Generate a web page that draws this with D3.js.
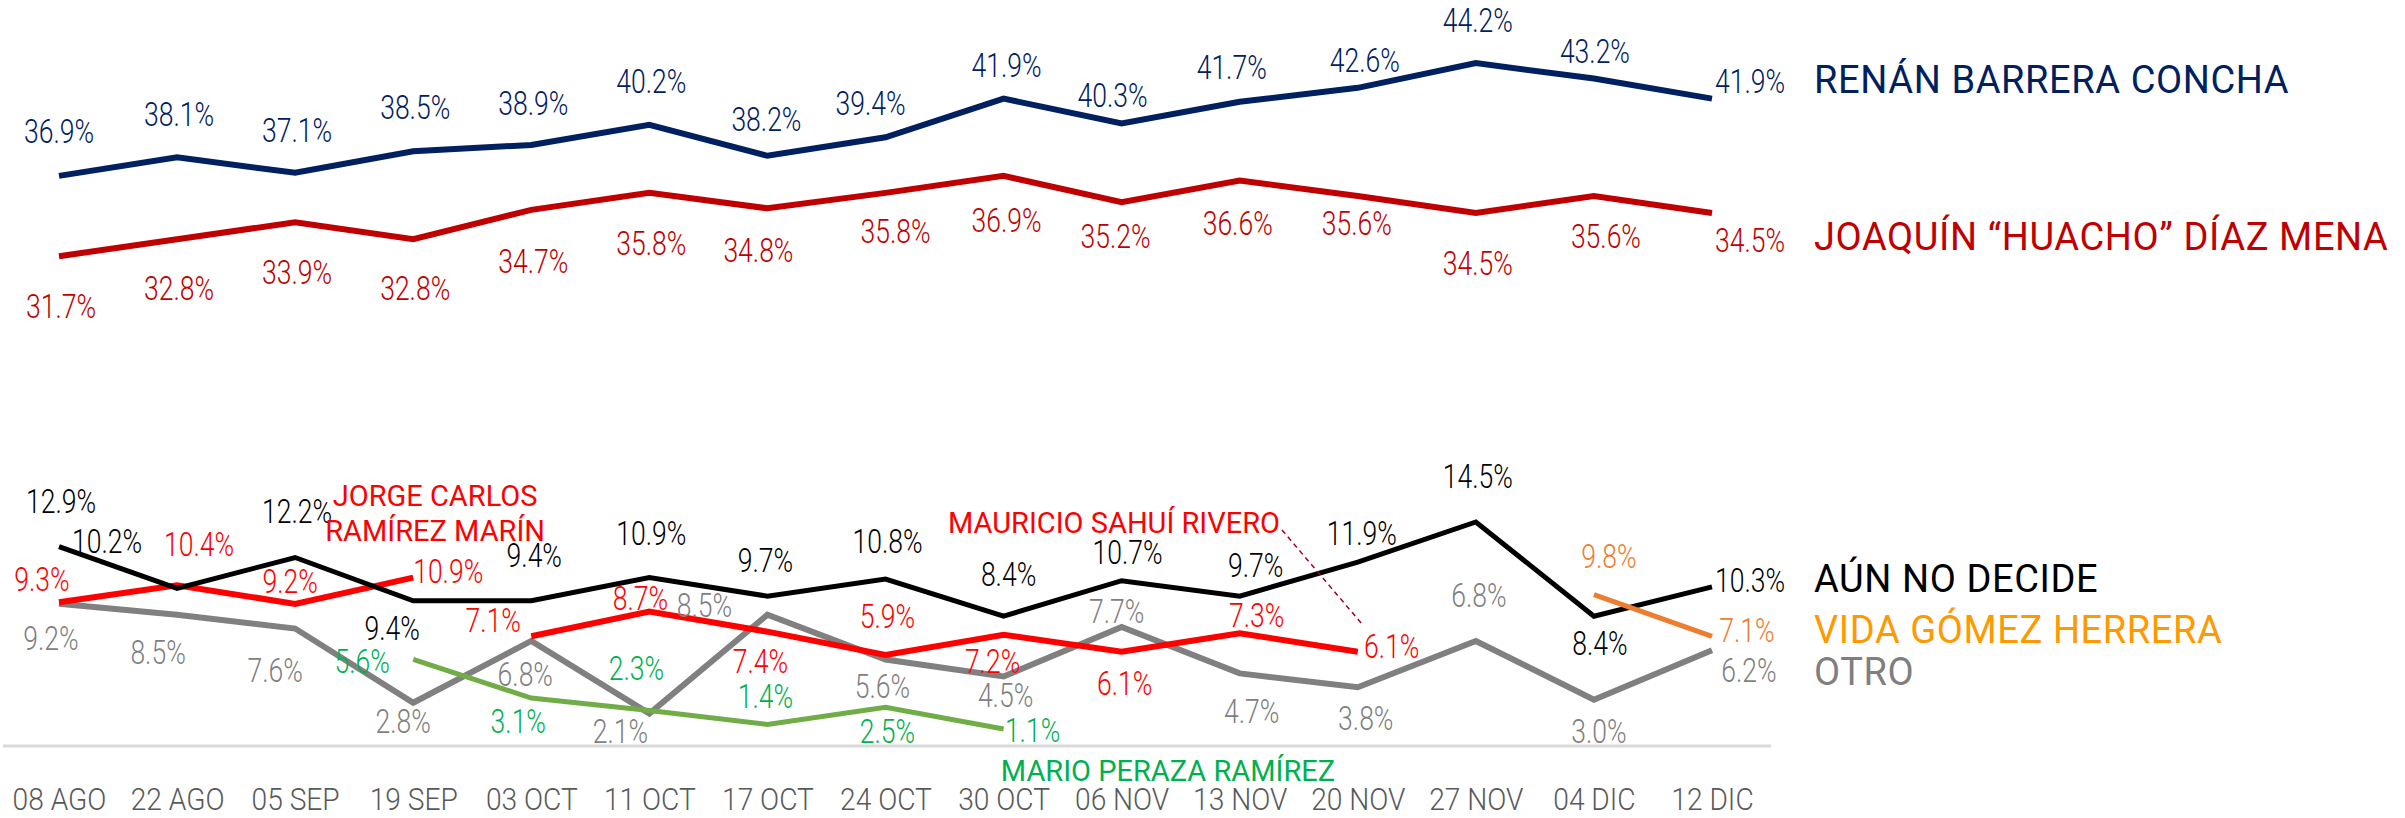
<!DOCTYPE html>
<html>
<head>
<meta charset="utf-8">
<script src="https://cdn.jsdelivr.net/npm/d3@7"></script>
<style>
  body { margin: 0; background: #fff; }
  text { font-family: Roboto, "Noto Sans", sans-serif; }
</style>
</head>
<body>
<div class="poll_chart"></div>
<script>

var svgWidth = 2405;
var svgHeight = 818;

// survey dates
var dates = ["08 AGO", "22 AGO", "05 SEP", "19 SEP", "03 OCT", "11 OCT", "17 OCT", "24 OCT",
  "30 OCT", "06 NOV", "13 NOV", "20 NOV", "27 NOV", "04 DIC", "12 DIC"];

// series values (%)
var renan = [36.9, 38.1, 37.1, 38.5, 38.9, 40.2, 38.2, 39.4, 41.9, 40.3, 41.7, 42.6, 44.2, 43.2, 41.9];
var joaquin = [31.7, 32.8, 33.9, 32.8, 34.7, 35.8, 34.8, 35.8, 36.9, 35.2, 36.6, 35.6, 34.5, 35.6, 34.5];
var aunNoDecide = [12.9, 10.2, 12.2, 9.4, 9.4, 10.9, 9.7, 10.8, 8.4, 10.7, 9.7, 11.9, 14.5, 8.4, 10.3];
var otro = [9.2, 8.5, 7.6, 2.8, 6.8, 2.1, 8.5, 5.6, 4.5, 7.7, 4.7, 3.8, 6.8, 3.0, 6.2];
var jorge = [9.3, 10.4, 9.2, 10.9, null, null, null, null, null, null, null, null, null, null, null];
var mauricio = [null, null, null, null, 7.1, 8.7, 7.4, 5.9, 7.2, 6.1, 7.3, 6.1, null, null, null];
var mario = [null, null, null, 5.6, 3.1, 2.3, 1.4, 2.5, 1.1, null, null, null, null, null, null];
var vida = [null, null, null, null, null, null, null, null, null, null, null, null, null, 9.8, 7.1];

// label offsets [dx, dy] from each point (text centre / baseline)
var renanLbl = [[0,-33],[2,-31],[2,-31],[2,-32],[2,-30],[2,-32],[-1,-25],[-15,-22],[3,-22],[-9,-16],[-8,-23],[7,-16],[2,-31],[1,-16],[38,-6]];
var joaquinLbl = [[2,62],[2,61],[2,62],[2,61],[2,63],[2,62],[-9,54],[10,50],[3,56],[-6,46],[-2,54],[-1,39],[2,62],[12,52],[38,39]];
var aunLbl = [[2,-34],[-70,-35],[2,-35],[-21,39],[3,-34],[2,-33],[-2,-24],[2,-26],[5,-30],[6,-17],[16,-19],[4,-17],[2,-34],[6,39],[38,5]];
var otroLbl = [[-8,46],[-19,49],[-20,53],[-10,30],[-6,45],[-29,29],[-63,2],[-3,39],[2,31],[-5,-4],[12,50],[8,43],[3,-34],[5,43],[37,32]];
var jorgeLbl = [[-17,-11],[22,-29],[-5,-11],[35,5]];
var mauricioLbl = [null,null,null,null,[-38,-4],[-9,-2],[-7,41],[2,-27],[-11,38],[3,43],[17,-6],[34,6]];
var marioLbl = [null,null,null,[-51,14],[-13,35],[-13,-30],[-2,-16],[2,36],[29,13]];
var vidaLbl = [null,null,null,null,null,null,null,null,null,null,null,null,null,[15,-27],[35,6]];

var series = [
  { name: "renan", values: renan, lbl: renanLbl, line: "#002060", text: "#002060", width: 6 },
  { name: "joaquin", values: joaquin, lbl: joaquinLbl, line: "#C00000", text: "#C00000", width: 6 },
  { name: "otro", values: otro, lbl: otroLbl, line: "#808080", text: "#7F7F7F", width: 6 },
  { name: "mario", values: mario, lbl: marioLbl, line: "#70AD47", text: "#00B050", width: 5 },
  { name: "jorge", values: jorge, lbl: jorgeLbl, line: "#FF0000", text: "#FF0000", width: 6 },
  { name: "mauricio", values: mauricio, lbl: mauricioLbl, line: "#FF0000", text: "#FF0000", width: 6 },
  { name: "aun", values: aunNoDecide, lbl: aunLbl, line: "#000000", text: "#000000", width: 5 },
  { name: "vida", values: vida, lbl: vidaLbl, line: "#ED7D31", text: "#ED7D31", width: 5 }
];

var svg = d3.select(".poll_chart")
  .append("svg")
  .attr("width", svgWidth)
  .attr("height", svgHeight);

var xScale = d3.scalePoint().domain(dates).range([59, 1712]);
var yScale = d3.scaleLinear().domain([0, 48]).range([746, 4.4]);

// baseline
svg.append("line")
  .attr("x1", 3).attr("x2", 1771)
  .attr("y1", yScale(0)).attr("y2", yScale(0))
  .attr("stroke", "#D9D9D9")
  .attr("stroke-width", 3);

// x axis labels
var xAxis = svg.append("g")
  .attr("transform", `translate(0, ${yScale(0)})`)
  .call(d3.axisBottom(xScale).tickSize(0));
xAxis.select(".domain").remove();
xAxis.selectAll("text")
  .attr("y", 0).attr("dy", 0)
  .attr("transform", "translate(0, 64) scale(0.88, 1)")
  .attr("font-size", 32)
  .attr("font-weight", 300)
  .attr("fill", "#595959")
  .style("font-family", "Roboto, sans-serif");

var line = d3.line()
  .defined(d => d != null)
  .x((d, i) => xScale(dates[i]))
  .y(d => yScale(d));

series.forEach(function (s) {
  svg.append("path")
    .datum(s.values)
    .attr("fill", "none")
    .attr("stroke", s.line)
    .attr("stroke-width", s.width)
    .attr("stroke-linejoin", "miter")
    .attr("d", line);
});

// value labels
series.forEach(function (s) {
  var pts = s.values.map((v, i) => ({ v: v, i: i, o: s.lbl[i] })).filter(d => d.v != null);
  svg.append("g").selectAll("text")
    .data(pts)
    .enter()
    .append("text")
    .attr("text-anchor", "middle")
    .attr("font-size", 34)
    .attr("font-weight", 300)
    .attr("fill", s.text)
    .attr("transform", d => `translate(${xScale(dates[d.i]) + d.o[0]}, ${yScale(d.v) + d.o[1]}) scale(0.78, 1)`)
    .text(d => d.v.toFixed(1) + "%");
});

// legend names at right
var legend = [
  { text: "RENÁN BARRERA CONCHA", y: 93, color: "#002060" },
  { text: "JOAQUÍN “HUACHO” DÍAZ MENA", y: 250, color: "#C00000" },
  { text: "AÚN NO DECIDE", y: 592, color: "#000000" },
  { text: "VIDA GÓMEZ HERRERA", y: 643, color: "#FF9900" },
  { text: "OTRO", y: 685, color: "#7F7F7F" }
];
svg.append("g").selectAll("text")
  .data(legend)
  .enter()
  .append("text")
  .attr("x", 1814)
  .attr("y", d => d.y)
  .attr("font-size", 38)
  .attr("letter-spacing", 0.6)
  .attr("fill", d => d.color)
  .text(d => d.text);

// candidate annotations
var jx = xScale("05 SEP") + 140;
svg.append("text")
  .attr("text-anchor", "middle")
  .attr("x", jx).attr("y", 506)
  .attr("font-size", 29).attr("fill", "#FF0000")
  .text("JORGE CARLOS");
svg.append("text")
  .attr("text-anchor", "middle")
  .attr("x", jx).attr("y", 541)
  .attr("font-size", 29).attr("fill", "#FF0000")
  .text("RAMÍREZ MARÍN");

svg.append("text")
  .attr("text-anchor", "end")
  .attr("x", 1280).attr("y", 533)
  .attr("font-size", 29).attr("fill", "#FF0000")
  .text("MAURICIO SAHUÍ RIVERO");

svg.append("line")
  .attr("x1", 1282).attr("y1", 530)
  .attr("x2", xScale("20 NOV") + 4).attr("y2", yScale(6.1) - 28)
  .attr("stroke", "#A50021")
  .attr("stroke-width", 1.5)
  .attr("stroke-dasharray", "5,4");

svg.append("text")
  .attr("text-anchor", "middle")
  .attr("x", 1168).attr("y", 781)
  .attr("font-size", 29).attr("fill", "#00B050")
  .text("MARIO PERAZA RAMÍREZ");

</script>
</body>
</html>
